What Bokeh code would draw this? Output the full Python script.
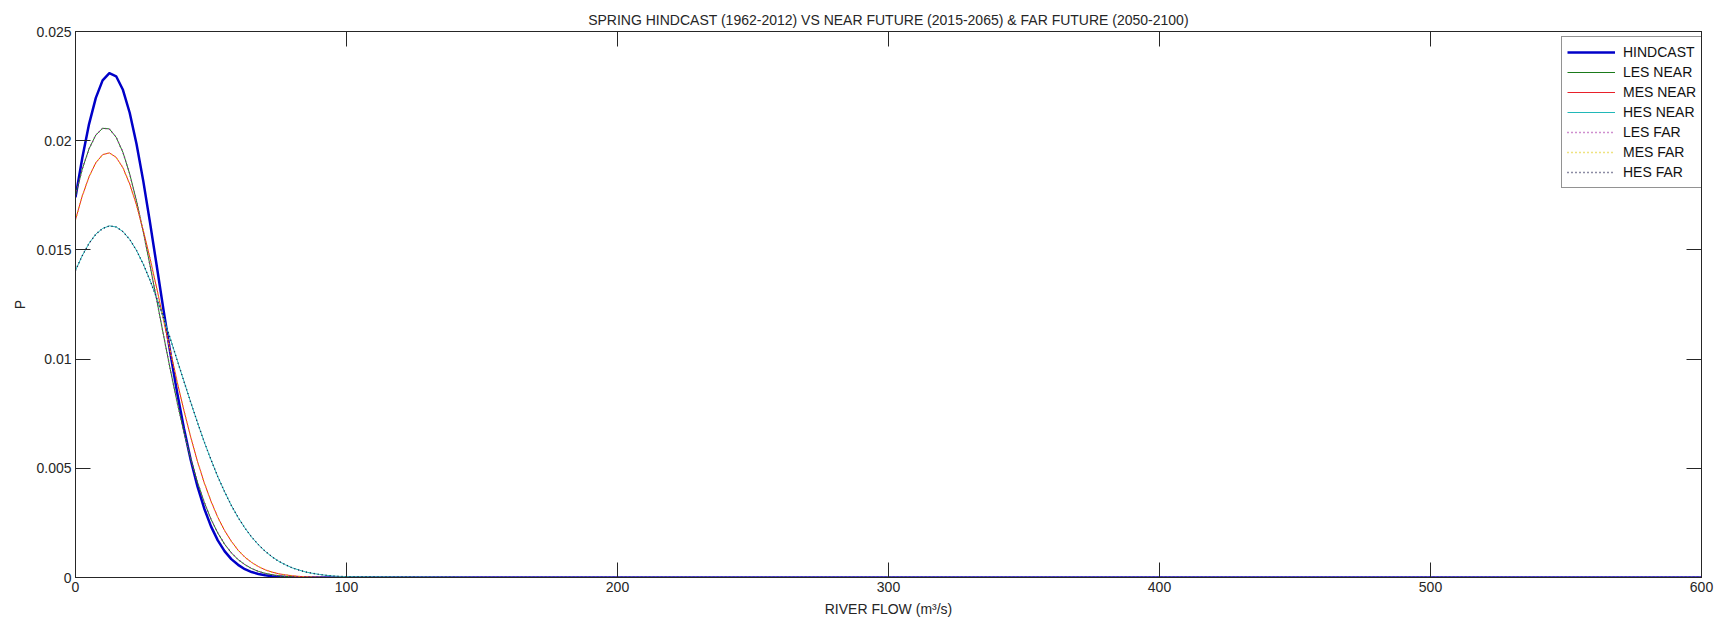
from bokeh.plotting import figure
from bokeh.models import (Range1d, FixedTicker, LinearAxis, Legend, LegendItem,
                          ColumnDataSource, CustomJSTickFormatter)
from bokeh.embed import file_html
from bokeh.resources import INLINE

# River flow (m^3/s) sample points
flow = [0, 2.5, 5, 7.5, 10, 12.5, 15, 17.5, 20, 22.5,
        25, 27.5, 30, 32.5, 35, 37.5, 40, 42.5, 45, 47.5,
        50, 52.5, 55, 57.5, 60, 62.5, 65, 67.5, 70, 72.5,
        75, 77.5, 80, 82.5, 85, 87.5, 90, 92.5, 95, 97.5,
        100, 150, 200, 250, 300, 350, 400, 450, 500, 550, 600]

# Probability density, spring hindcast 1962-2012
hindcast = [0.01741, 0.01921, 0.02076, 0.02196, 0.02276, 0.02309, 0.02295, 0.02233, 0.02128, 0.01986,
            0.01816, 0.01625, 0.01425, 0.01223, 0.01028, 0.00847, 0.00683, 0.00539, 0.00417, 0.00316,
            0.00234, 0.00170, 0.00121, 0.00084, 0.00058, 0.00038, 0.00025, 0.00016, 0.00010, 0.00006,
            0.00004, 0.00002, 0.00001, 0, 0, 0, 0, 0, 0, 0,
            0, 0, 0, 0, 0, 0, 0, 0, 0, 0, 0]

# Low emission scenario
les = [0.01751, 0.01870, 0.01963, 0.02026, 0.02057, 0.02054, 0.02016, 0.01947, 0.01848, 0.01725,
       0.01583, 0.01429, 0.01269, 0.01108, 0.00951, 0.00803, 0.00666, 0.00544, 0.00437, 0.00345,
       0.00267, 0.00204, 0.00153, 0.00113, 0.00082, 0.00059, 0.00041, 0.00028, 0.00019, 0.00013,
       0.00008, 0.00005, 0.00003, 0.00002, 0.00001, 0, 0, 0, 0, 0,
       0, 0, 0, 0, 0, 0, 0, 0, 0, 0, 0]

# Medium emission scenario
mes = [0.01639, 0.01747, 0.01835, 0.01899, 0.01936, 0.01944, 0.01924, 0.01876, 0.01802, 0.01706,
       0.01590, 0.01461, 0.01323, 0.01179, 0.01036, 0.00897, 0.00765, 0.00643, 0.00532, 0.00434,
       0.00349, 0.00276, 0.00215, 0.00166, 0.00125, 0.00093, 0.00069, 0.00050, 0.00035, 0.00025,
       0.00017, 0.00012, 0.00008, 0.00005, 0.00003, 0.00002, 0.00001, 0, 0, 0,
       0, 0, 0, 0, 0, 0, 0, 0, 0, 0, 0]

# High emission scenario
hes = [0.01406, 0.01474, 0.01530, 0.01572, 0.01598, 0.01610, 0.01605, 0.01584, 0.01548, 0.01498,
       0.01435, 0.01361, 0.01278, 0.01188, 0.01093, 0.00996, 0.00899, 0.00803, 0.00710, 0.00621,
       0.00539, 0.00462, 0.00393, 0.00330, 0.00275, 0.00227, 0.00185, 0.00150, 0.00120, 0.00095,
       0.00074, 0.00058, 0.00044, 0.00034, 0.00025, 0.00019, 0.00014, 0.00010, 0.00007, 0.00005,
       0.00004, 0, 0, 0, 0, 0, 0, 0, 0, 0, 0]

# Near future (2015-2065) and far future (2050-2100) curves
les_near, mes_near, hes_near = les, mes, hes
les_far, mes_far, hes_far = les, mes, hes

x_ticks = [0, 100, 200, 300, 400, 500, 600]
y_ticks = [0, 0.005, 0.01, 0.015, 0.02, 0.025]
y_tick_labels = ["0", "0.005", "0.01", "0.015", "0.02", "0.025"]

title_text = "SPRING HINDCAST (1962-2012) VS NEAR FUTURE (2015-2065) & FAR FUTURE (2050-2100)"

FONT = "Liberation Sans"
INK = "#262626"

source = ColumnDataSource(dict(
    flow=flow, hindcast=hindcast,
    les_near=les_near, mes_near=mes_near, hes_near=hes_near,
    les_far=les_far, mes_far=mes_far, hes_far=hes_far,
))

p = figure(width=1716, height=623, output_backend="svg", toolbar_location=None,
           x_range=Range1d(0, 600), y_range=Range1d(0, 0.025),
           min_border_left=75, min_border_right=15, min_border_top=31, min_border_bottom=46,
           background_fill_color="white", border_fill_color="white",
           outline_line_color=INK, outline_line_width=1)
p.grid.visible = False

p.title.text = title_text
p.title.align = "center"
p.title.text_font = FONT
p.title.text_font_size = "14px"
p.title.text_font_style = "normal"
p.title.text_color = INK
p.title.standoff = 8
p.title.offset = 0


def style_axis(ax):
    ax.major_tick_in = 15
    ax.major_tick_out = 0
    ax.minor_tick_in = 0
    ax.minor_tick_out = 0
    ax.axis_line_color = INK
    ax.major_tick_line_color = INK
    ax.major_label_text_font = FONT
    ax.major_label_text_color = INK
    ax.major_label_text_font_size = "14px"
    ax.major_label_standoff = 4
    ax.axis_label_text_font = FONT
    ax.axis_label_text_font_size = "14px"
    ax.axis_label_text_font_style = "normal"
    ax.axis_label_text_color = INK


xa = p.xaxis[0]
xa.ticker = FixedTicker(ticks=x_ticks)
xa.axis_label = "RIVER FLOW (m³/s)"
xa.axis_label_standoff = 6
style_axis(xa)

ya = p.yaxis[0]
ya.ticker = FixedTicker(ticks=y_ticks)
ya.major_label_overrides = {t: s for t, s in zip(y_ticks, y_tick_labels)}
ya.axis_label = "P"
ya.axis_label_standoff = 5
style_axis(ya)

# Box axes on top and right carry inward ticks only
blank = CustomJSTickFormatter(code="return ''")
top_axis = LinearAxis(ticker=FixedTicker(ticks=x_ticks), formatter=blank)
style_axis(top_axis)
top_axis.major_label_standoff = 0
top_axis.major_label_text_font_size = "1px"
p.add_layout(top_axis, "above")

right_axis = LinearAxis(ticker=FixedTicker(ticks=y_ticks), formatter=blank)
style_axis(right_axis)
right_axis.major_label_standoff = 0
right_axis.major_label_text_font_size = "1px"
p.add_layout(right_axis, "right")

# (column, label, colour, width, dash)
styles = [
    ("hindcast", "HINDCAST", "#0000c8", 2.5, "solid"),
    ("les_near", "LES NEAR", "#1a7a1a", 1, "solid"),
    ("mes_near", "MES NEAR", "#e8202a", 1, "solid"),
    ("hes_near", "HES NEAR", "#20b8b8", 1, "solid"),
    ("les_far", "LES FAR", "#a020a0", 1.4, "1 3"),
    ("mes_far", "MES FAR", "#e0c800", 1.4, "1 3"),
    ("hes_far", "HES FAR", "#1a1a4a", 1.4, "1 3"),
]

items = []
for col, label, color, width, dash in styles:
    r = p.line("flow", col, source=source, line_color=color, line_width=width,
               line_dash=dash, line_join="round")
    items.append(LegendItem(label=label, renderers=[r]))

legend = Legend(items=items, location=(1486, 389))
legend.glyph_width = 48
legend.glyph_height = 20
legend.label_height = 20
legend.spacing = 0
legend.padding = 5
legend.label_standoff = 8
legend.margin = 0
legend.border_line_color = INK
legend.border_line_width = 1
legend.background_fill_color = "white"
legend.background_fill_alpha = 1
legend.label_text_font = FONT
legend.label_text_font_size = "14px"
legend.label_text_color = "#111111"
p.add_layout(legend)

open("out.html", "w").write(file_html(p, INLINE))
